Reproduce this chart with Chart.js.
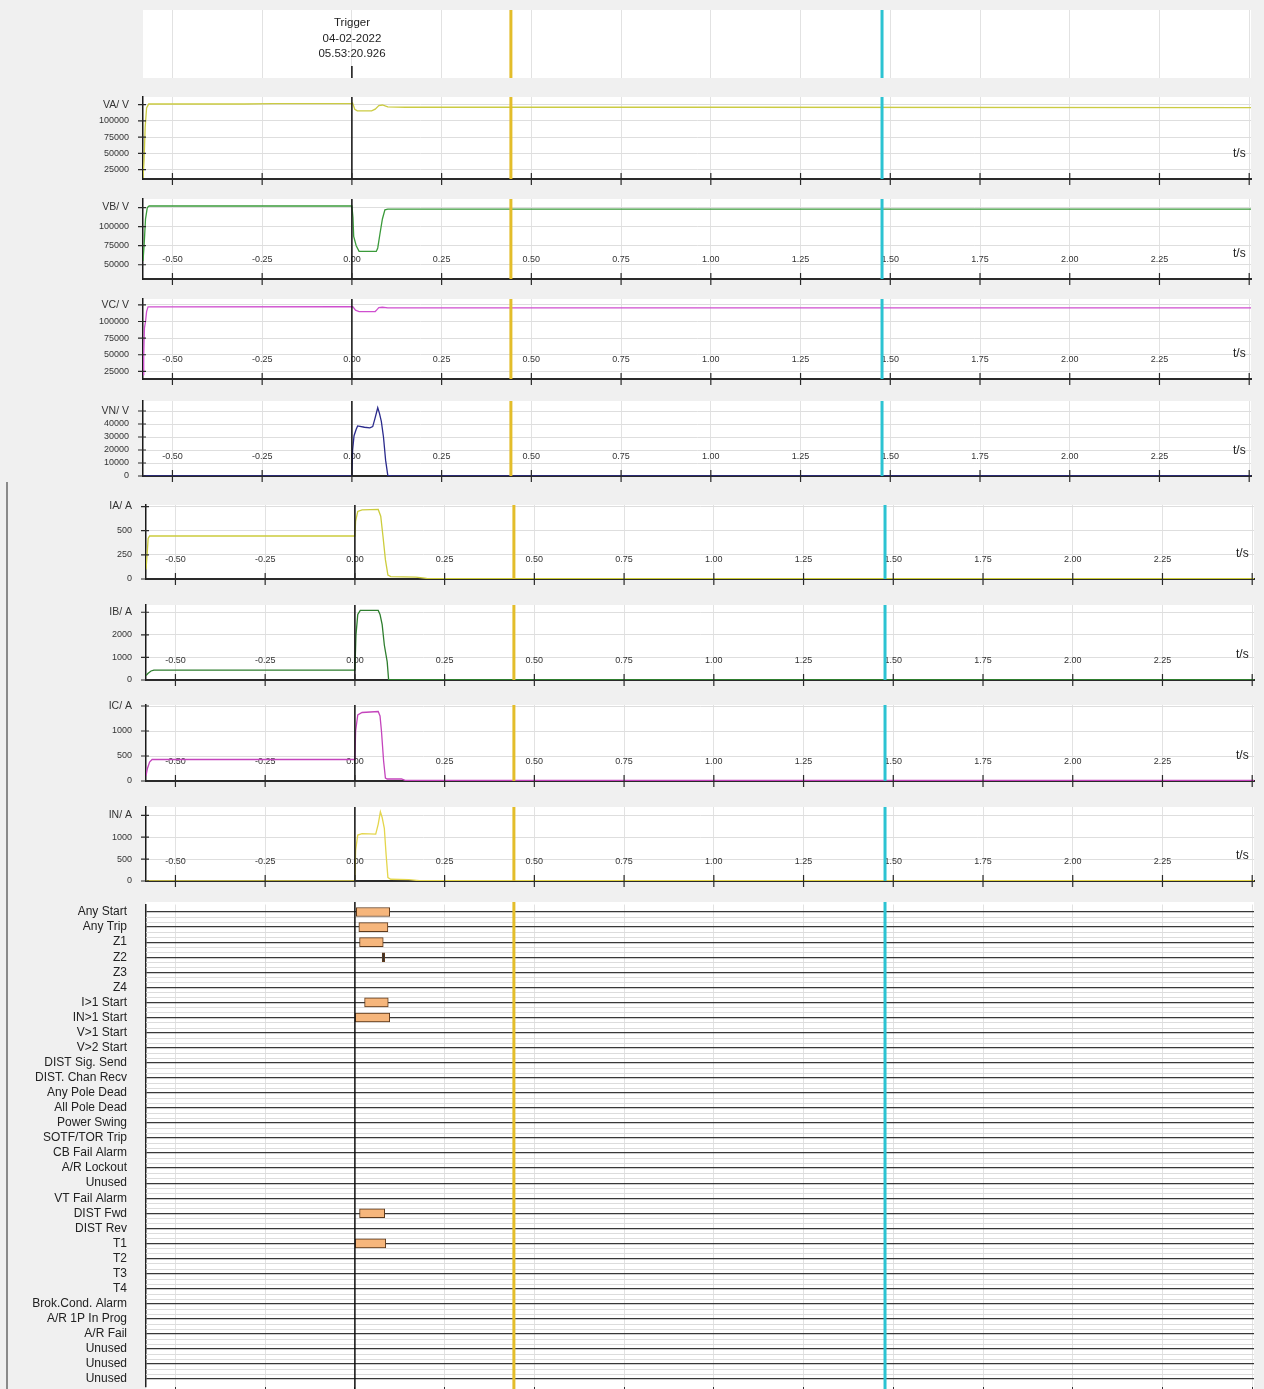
<!DOCTYPE html>
<html>
<head>
<meta charset="utf-8">
<script src="https://cdn.jsdelivr.net/npm/chart.js@4.4.1/dist/chart.umd.min.js"></script>
<style>
  body { margin: 0; background: #f0f0f0; font-family: "Liberation Sans", Arial, sans-serif; }
  #wrap { position: relative; width: 1264px; height: 1389px; overflow: hidden; }
  canvas { position: absolute; z-index: 1; }
  .txt { position: absolute; z-index: 2; color: #222; font-size: 12px; line-height: 14px; }
  #trigger { left: 292px; width: 120px; top: 15px; text-align: center; font-size: 11.5px; line-height: 15.5px; }
  #frame { position: absolute; left: 6px; top: 482px; width: 2px; height: 907px; background: #8a8a8a; }
</style>
</head>
<body>
<div id="wrap">
  <div id="frame"></div>
  <div id="trigger" class="txt">Trigger<br>04-02-2022<br>05.53:20.926</div>
</div>
<script>
"use strict";

/* Tidsaxel */
const tTicks = [-0.5, -0.25, 0, 0.25, 0.5, 0.75, 1, 1.25, 1.5, 1.75, 2, 2.25, 2.5];
const cursors = [0.443, 1.477];
const X_MIN = -0.582, X_MAX = 2.505;

/* Analoga kanaler, tid (s) och värde */
const vaT = [-0.582, -0.579, -0.576, -0.572, -0.566, -0.30, -0.22, 0.0, 0.002, 0.008, 0.015, 0.055, 0.065, 0.075, 0.085, 0.10, 0.15, 1.0, 2.505];
const vaV = [12000, 40000, 90000, 120000, 126000, 126000, 126500, 126500, 127500, 118000, 115500, 115500, 118000, 123500, 124500, 121500, 121000, 121000, 120500];
const vbT = [-0.582, -0.579, -0.575, -0.570, -0.565, 0.0, 0.003, 0.005, 0.012, 0.02, 0.068, 0.072, 0.078, 0.085, 0.092, 0.10, 2.505];
const vbV = [55000, 75000, 110000, 125000, 127000, 127000, 112000, 87000, 75000, 67500, 67500, 72000, 90000, 110000, 122000, 123000, 123000];
const vcT = [-0.582, -0.580, -0.578, -0.575, -0.572, -0.568, 0.0, 0.003, 0.01, 0.02, 0.065, 0.07, 0.075, 0.085, 0.10, 2.505];
const vcV = [20000, 50000, 90000, 100000, 115000, 122000, 122500, 122000, 117000, 115000, 115000, 118000, 121000, 121500, 120500, 120500];
const vnT = [-0.582, 0.0, 0.002, 0.006, 0.012, 0.016, 0.035, 0.05, 0.058, 0.064, 0.072, 0.077, 0.082, 0.088, 0.094, 0.10, 0.11, 2.505];
const vnV = [0, 0, 20000, 31000, 36000, 38500, 37500, 37000, 38000, 44000, 52500, 48000, 42000, 30000, 12000, 500, 0, 0];
const iaT = [-0.582, -0.579, -0.576, -0.572, 0.0, 0.002, 0.008, 0.02, 0.065, 0.072, 0.078, 0.085, 0.092, 0.10, 0.17, 0.20, 2.505];
const iaV = [100, 250, 420, 445, 445, 600, 700, 715, 720, 650, 450, 200, 40, 25, 20, 6, 4];
const ibT = [-0.582, -0.576, -0.568, -0.56, 0.0, 0.003, 0.008, 0.015, 0.065, 0.07, 0.076, 0.082, 0.09, 0.094, 0.095, 2.505];
const ibV = [200, 300, 400, 440, 440, 2000, 2900, 3080, 3080, 2900, 2450, 1550, 800, 0, 10, 10];
const icT = [-0.582, -0.578, -0.572, -0.565, 0.0, 0.002, 0.008, 0.02, 0.065, 0.07, 0.074, 0.08, 0.085, 0.09, 0.13, 0.14, 2.505];
const icV = [100, 250, 380, 430, 430, 1000, 1320, 1370, 1390, 1300, 1000, 400, 60, 40, 40, 12, 10];
const inT = [-0.582, 0.0, 0.002, 0.008, 0.02, 0.058, 0.065, 0.071, 0.076, 0.082, 0.087, 0.092, 0.10, 0.15, 0.18, 2.505];
const inV = [5, 5, 700, 1050, 1080, 1070, 1300, 1580, 1450, 1200, 600, 80, 40, 30, 8, 8];

/* Y-axelns tick-värden */
const vaTicks = [25000, 50000, 75000, 100000, 125000];
const vbTicks = [50000, 75000, 100000, 125000];
const vcTicks = [25000, 50000, 75000, 100000, 125000];
const vnTicks = [0, 10000, 20000, 30000, 40000, 50000];
const iaTicks = [0, 250, 500, 750];
const ibTicks = [0, 1000, 2000, 3000];
const icTicks = [0, 500, 1000, 1500];
const inTicks = [0, 500, 1000, 1500];

/* Digitala kanaler */
const digLabels = ["Any Start", "Any Trip", "Z1", "Z2", "Z3", "Z4", "I>1 Start", "IN>1 Start", "V>1 Start", "V>2 Start",
  "DIST Sig. Send", "DIST. Chan Recv", "Any Pole Dead", "All Pole Dead", "Power Swing", "SOTF/TOR Trip", "CB Fail Alarm",
  "A/R Lockout", "Unused", "VT Fail Alarm", "DIST Fwd", "DIST Rev", "T1", "T2", "T3", "T4", "Brok.Cond. Alarm",
  "A/R 1P In Prog", "A/R Fail", "Unused", "Unused", "Unused"];
const digActive = [0, 1, 2, 3, 6, 7, 20, 22];
const digStart = [0.004, 0.011, 0.013, 0.076, 0.027, 0.001, 0.013, 0.001];
const digEnd = [0.097, 0.092, 0.079, 0.083, 0.093, 0.097, 0.083, 0.086];

Chart.defaults.font.family = '"Liberation Sans", Arial, sans-serif';
const wrap = document.getElementById("wrap");
const BELOW = 8, ABOVE = 8;
const PLOT_L = 143, PLOT_R = 1251;

function fmtT(v) {
  return Math.abs(v - 2.5) < 1e-6 ? "" : v.toFixed(2);
}

/* Vit bakgrund, tidsetiketter, markörer och korsande tick-streck */
const panelDecor = {
  id: "panelDecor",
  beforeDraw(chart, args, o) {
    const a = chart.chartArea, ctx = chart.ctx;
    const top = o.bgTop !== undefined ? o.bgTop : a.top;
    const bot = o.bgBottom !== undefined ? o.bgBottom : a.bottom;
    ctx.save();
    ctx.fillStyle = "#ffffff";
    ctx.fillRect(a.left, top, a.right - a.left, bot - top);
    ctx.restore();
  },
  beforeDatasetsDraw(chart, args, o) {
    const a = chart.chartArea, ctx = chart.ctx, xs = chart.scales.x;
    ctx.save();
    if (o.subLines) {
      const ys = chart.scales.y;
      ctx.strokeStyle = "#dcdcdc";
      ctx.lineWidth = 1;
      ctx.beginPath();
      for (let i = 0; i < ys.ticks.length - 1; i++) {
        const y1 = ys.getPixelForTick(i), y2 = ys.getPixelForTick(i + 1);
        [1 / 3, 2 / 3].forEach(f => {
          const py = Math.round(y1 + (y2 - y1) * f) + 0.5;
          ctx.moveTo(a.left, py);
          ctx.lineTo(a.right, py);
        });
      }
      ctx.stroke();
    }
    if (o.timeLabels) {
      ctx.fillStyle = "#333";
      ctx.font = '9px "Liberation Sans", Arial, sans-serif';
      ctx.textAlign = "center";
      ctx.textBaseline = "middle";
      xs.ticks.forEach(t => ctx.fillText(fmtT(t.value), xs.getPixelForValue(t.value), a.bottom - 19));
    }
    ctx.restore();
  },
  afterDatasetsDraw(chart, args, o) {
    const a = chart.chartArea, ctx = chart.ctx, xs = chart.scales.x;
    const top = o.lineTop !== undefined ? o.lineTop : a.top;
    const bot = o.lineBottom !== undefined ? o.lineBottom : a.bottom;
    function vline(px, y1, y2, color, w) {
      ctx.beginPath();
      ctx.strokeStyle = color;
      ctx.lineWidth = w;
      ctx.moveTo(px, y1);
      ctx.lineTo(px, y2);
      ctx.stroke();
    }
    ctx.save();
    const x0 = xs.getPixelForValue(0);
    if (o.zero === "full") vline(x0, top, bot, "#111", 1.5);
    if (o.zero === "stub") vline(x0, bot - 12, bot, "#111", 1.5);
    vline(xs.getPixelForValue(cursors[0]), top, bot, "#e3bd2a", 3);
    vline(xs.getPixelForValue(cursors[1]), top, bot, "#2cc3d2", 3);
    if (o.cross) {
      xs.ticks.forEach(t => vline(xs.getPixelForValue(t.value), a.bottom - 6, a.bottom + 6, "#2a2a2a", 1.2));
      const ys = chart.scales.y;
      ctx.beginPath();
      ys.ticks.forEach(t => {
        const py = ys.getPixelForValue(t.value);
        ctx.moveTo(a.left - 5, py);
        ctx.lineTo(a.left + 3, py);
      });
      ctx.strokeStyle = "#2a2a2a";
      ctx.lineWidth = 1.2;
      ctx.stroke();
    }
    ctx.restore();
  }
};

function xScale(axisLine, below) {
  return {
    type: "linear", min: X_MIN, max: X_MAX,
    afterBuildTicks: s => { s.ticks = tTicks.map(v => ({ value: v })); },
    afterFit: s => { s.height = below; s.paddingLeft = 0; s.paddingRight = 0; },
    grid: { color: "#e2e2e2", drawTicks: false },
    border: { display: axisLine, color: "#2a2a2a", width: 2 },
    ticks: { display: false }
  };
}

function makeCanvas(left, top, h) {
  const cv = document.createElement("canvas");
  cv.width = 1264;
  cv.height = h;
  cv.style.left = left + "px";
  cv.style.top = top + "px";
  wrap.appendChild(cv);
  return cv;
}

/* Rubrikpanel med trigger */
new Chart(makeCanvas(0, 10, 68), {
  type: "line",
  data: { datasets: [] },
  options: {
    responsive: false, animation: false, events: [],
    layout: { autoPadding: false, padding: { left: 0, right: 1264 - PLOT_R, top: 0, bottom: 0 } },
    plugins: { legend: { display: false }, tooltip: { enabled: false }, panelDecor: { zero: "stub" } },
    scales: {
      x: xScale(false, 0),
      y: { display: true, min: 0, max: 1, afterFit: s => { s.width = PLOT_L; s.paddingTop = 0; s.paddingBottom = 0; },
        grid: { display: false }, border: { display: false }, ticks: { display: false } }
    }
  },
  plugins: [panelDecor]
});

/* Analoga paneler */
const panels = [
  { t: vaT, v: vaV, ticks: vaTicks, unit: "VA/ V", color: "#cbcb42", top: 97, axis: 179, min: 10500, max: 136800, off: 0, labels: false },
  { t: vbT, v: vbV, ticks: vbTicks, unit: "VB/ V", color: "#3a9a3a", top: 199, axis: 279, min: 31300, max: 136200, off: 0, labels: true },
  { t: vcT, v: vcV, ticks: vcTicks, unit: "VC/ V", color: "#cf4fcf", top: 299, axis: 379, min: 13500, max: 133900, off: 0, labels: true },
  { t: vnT, v: vnV, ticks: vnTicks, unit: "VN/ V", color: "#2a2a8c", top: 401, axis: 476, min: 0, max: 57700, off: 0, labels: true },
  { t: iaT, v: iaV, ticks: iaTicks, unit: "IA/ A", color: "#cccc3c", top: 505, axis: 579, min: 0, max: 766, off: 3, labels: true },
  { t: ibT, v: ibV, ticks: ibTicks, unit: "IB/ A", color: "#2e7e2e", top: 605, axis: 680, min: 0, max: 3320, off: 3, labels: true },
  { t: icT, v: icV, ticks: icTicks, unit: "IC/ A", color: "#c444bc", top: 705, axis: 781, min: 0, max: 1520, off: 3, labels: true },
  { t: inT, v: inV, ticks: inTicks, unit: "IN/ A", color: "#e4d64c", top: 807, axis: 881, min: 0, max: 1690, off: 3, labels: true }
];

panels.forEach(p => {
  const topTick = p.ticks[p.ticks.length - 1];
  const cv = makeCanvas(p.off, p.top - ABOVE, p.axis - p.top + ABOVE + BELOW);
  new Chart(cv, {
    type: "line",
    data: {
      datasets: [{
        data: p.t.map((t, i) => ({ x: t, y: p.v[i] })),
        borderColor: p.color, borderWidth: 1.3, pointRadius: 0, tension: 0, fill: false
      }]
    },
    options: {
      responsive: false, animation: false, events: [],
      layout: { autoPadding: false, padding: { left: 0, right: 1264 - PLOT_R, top: ABOVE, bottom: 0 } },
      plugins: {
        legend: { display: false }, tooltip: { enabled: false },
        panelDecor: { zero: "full", cross: true, timeLabels: p.labels }
      },
      scales: {
        x: xScale(true, BELOW),
        y: {
          type: "linear", min: p.min, max: p.max,
          afterBuildTicks: s => { s.ticks = p.ticks.map(v => ({ value: v })); },
          afterFit: s => { s.width = PLOT_L; s.paddingTop = 0; s.paddingBottom = 0; },
          grid: { color: "#dedede", drawTicks: false },
          border: { color: "#1a1a1a", width: 1.5 },
          ticks: {
            padding: 14, color: "#333", autoSkip: false,
            font: c => ({ size: c.tick && c.tick.value === topTick ? 10.5 : 9 }),
            callback: v => (v === topTick ? p.unit : String(v))
          }
        }
      }
    },
    plugins: [panelDecor]
  });
  const ts = document.createElement("div");
  ts.className = "txt";
  ts.textContent = "t/s";
  ts.style.left = (1233 + p.off) + "px";
  ts.style.top = (p.axis - 33) + "px";
  wrap.appendChild(ts);
});

/* Digitala kanaler som flytande staplar */
const digBars = digLabels.map(() => null);
const digFill = digLabels.map(() => "#f6b67c");
digActive.forEach((row, i) => { digBars[row] = [digStart[i], digEnd[i]]; });
digFill[3] = "#333333";

new Chart(makeCanvas(3, 902, 487), {
  type: "bar",
  data: {
    labels: digLabels,
    datasets: [{
      data: digBars, backgroundColor: digFill, borderColor: "#5e3a1c", borderWidth: 1,
      barThickness: 9, borderSkipped: false
    }]
  },
  options: {
    indexAxis: "y", responsive: false, animation: false, events: [],
    layout: { autoPadding: false, padding: { left: 0, right: 1264 - PLOT_R, top: 2.5, bottom: 0 } },
    plugins: {
      legend: { display: false }, tooltip: { enabled: false },
      panelDecor: { zero: "full", subLines: true, bgTop: 0, bgBottom: 487, lineTop: 0, lineBottom: 487 }
    },
    scales: {
      x: {
        type: "linear", min: X_MIN, max: X_MAX,
        afterBuildTicks: s => { s.ticks = tTicks.map(v => ({ value: v })); },
        afterFit: s => { s.height = 2.5; s.paddingLeft = 0; s.paddingRight = 0; },
        grid: { color: "#e2e2e2", tickColor: "#333", tickLength: 5 },
        border: { display: false },
        ticks: { display: false }
      },
      y: {
        type: "category", offset: true,
        afterFit: s => { s.width = PLOT_L; s.paddingTop = 0; s.paddingBottom = 0; },
        grid: { offset: false, color: "#383838", lineWidth: 1.2, drawTicks: false },
        border: { color: "#222", width: 1.5 },
        ticks: { padding: 19, color: "#222", font: { size: 12 }, autoSkip: false }
      }
    }
  },
  plugins: [panelDecor]
});
</script>
</body>
</html>
